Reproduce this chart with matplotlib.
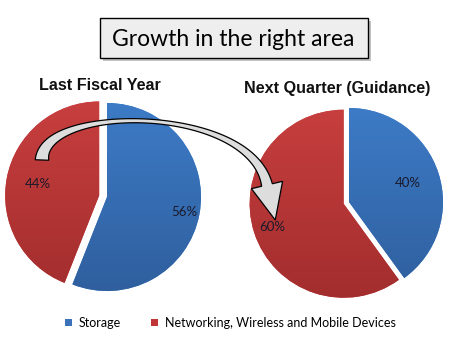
import numpy as np
import matplotlib
matplotlib.use("Agg")
import matplotlib.pyplot as plt
from matplotlib.colors import LinearSegmentedColormap
from matplotlib.patches import Rectangle, Polygon

W, H = 458, 353

categories = ["Storage", "Networking, Wireless and Mobile Devices"]
last_fiscal_year = [56, 44]
next_quarter = [40, 60]
pie_titles = ["Last Fiscal Year", "Next Quarter (Guidance)"]
chart_title = "Growth in the right area"

blue_grad = ["#3F7FCC", "#2D5B98"]
red_grad = ["#CD4141", "#9E2B2B"]
legend_colors = ["#3B72BA", "#C03636"]

fig = plt.figure(figsize=(W / 100, H / 100), dpi=100)
fig.patch.set_facecolor("white")


def pie_axes(cx, cy, r, pad=1.25):
    # axes in pixel units, y measured from the top
    s = 2 * r * pad
    ax = fig.add_axes([(cx - s / 2) / W, (H - cy - s / 2) / H, s / W, s / H])
    ax.axis("off")
    return ax


def draw_pie(ax, values, explode, label_r):
    wedges, _, autotexts = ax.pie(
        values, startangle=90, counterclock=False, explode=explode,
        colors=[blue_grad[0], red_grad[0]], autopct="%d%%",
        textprops=dict(family="Lato", fontsize=9.5, color="#1a1a2a"),
    )
    for w, grad in zip(wedges, [blue_grad, red_grad]):
        cmap = LinearSegmentedColormap.from_list("g", grad)
        im = ax.imshow(np.linspace(0, 1, 100).reshape(-1, 1), cmap=cmap,
                       extent=[-1.3, 1.3, -1.3, 1.3], aspect="auto",
                       origin="upper", zorder=1.5)
        im.set_clip_path(w)
    for w, t, lr in zip(wedges, autotexts, label_r):
        mid = np.deg2rad((w.theta1 + w.theta2) / 2)
        cx, cy = w.center
        t.set_position((cx + lr * w.r * np.cos(mid), cy + lr * w.r * np.sin(mid)))
        t.set_zorder(5)
    ax.set_xlim(-1.25, 1.25)
    ax.set_ylim(-1.25, 1.25)
    return wedges


ax1 = pie_axes(107, 197, 94)
draw_pie(ax1, last_fiscal_year, [0, 0.085], [0.84, 0.66])
ax2 = pie_axes(349, 202, 94)
draw_pie(ax2, next_quarter, [0, 0.06], [0.66, 0.8])

# overlay in pixel coordinates
ov = fig.add_axes([0, 0, 1, 1], zorder=10)
ov.axis("off")
ov.patch.set_alpha(0)

# title box with shadow
ov.add_patch(Rectangle((103, 21), 268, 40, facecolor="#9a9a9a", edgecolor="none", alpha=0.6))
box = Rectangle((100, 18), 268, 40, facecolor="#eeeeee", edgecolor="black", lw=1.0, zorder=2)
ov.add_patch(box)
gcm = LinearSegmentedColormap.from_list("box", ["#fbfbfb", "#c4c4c4"])
im = ov.imshow(np.linspace(0, 1, 100).reshape(-1, 1), cmap=gcm, extent=[0, W, 58, 18],
               aspect="auto", zorder=1.9)
im.set_clip_path(box)
ov.text(233, 39, chart_title, ha="center", va="center", family="Lato",
        fontsize=16.5, color="black", zorder=3)

ov.text(100, 85, pie_titles[0], ha="center", va="center", family="Liberation Sans",
        fontweight="bold", fontsize=11.6, color="#111111")
ov.text(337, 88, pie_titles[1], ha="center", va="center", family="Liberation Sans",
        fontweight="bold", fontsize=11.6, color="#111111")

# curved block arrow from the left pie to the right pie
P = np.array([[42, 160], [42, 104], [250, 104], [267, 185]], float)
t = np.linspace(0, 1, 100)
c = ((1 - t) ** 3)[:, None] * P[0] + (3 * (1 - t) ** 2 * t)[:, None] * P[1] \
    + (3 * (1 - t) * t ** 2)[:, None] * P[2] + (t ** 3)[:, None] * P[3]
d = np.gradient(c, axis=0)
d /= np.linalg.norm(d, axis=1)[:, None]
n = np.column_stack([-d[:, 1], d[:, 0]])
hw = np.where(t < 0.5, 2.0 + 4.8 * (1 - 2 * t) ** 2, 2.0 + 3.5 * (2 * t - 1) ** 2)[:, None]
left = c + n * hw
right = c - n * hw
tip = c[-1] + d[-1] * 36
hl = c[-1] + n[-1] * 16
hr = c[-1] - n[-1] * 16
pts = np.vstack([left, hl, tip, hr, right[::-1]])
arrow = Polygon(pts, closed=True, facecolor="#dddddd", edgecolor="black", lw=0.9, zorder=4)
ov.add_patch(arrow)
acm = LinearSegmentedColormap.from_list("arr", ["#8c8c8c", "#f4f4f4", "#f0f0f0", "#b4b4b4"])
im2 = ov.imshow(np.linspace(0, 1, 200).reshape(1, -1), cmap=acm, extent=[30, 290, H, 0],
                aspect="auto", zorder=3.9)
im2.set_clip_path(arrow)

# legend
ov.add_patch(Rectangle((65, 319), 7, 7, facecolor=legend_colors[0], edgecolor="none"))
ov.text(79, 323, categories[0], ha="left", va="center", family="Lato", fontsize=9)
ov.add_patch(Rectangle((151, 319), 7, 7, facecolor=legend_colors[1], edgecolor="none"))
ov.text(165, 323, categories[1], ha="left", va="center", family="Lato", fontsize=9)

ov.set_xlim(0, W)
ov.set_ylim(H, 0)

fig.savefig("out.png", dpi=100)
